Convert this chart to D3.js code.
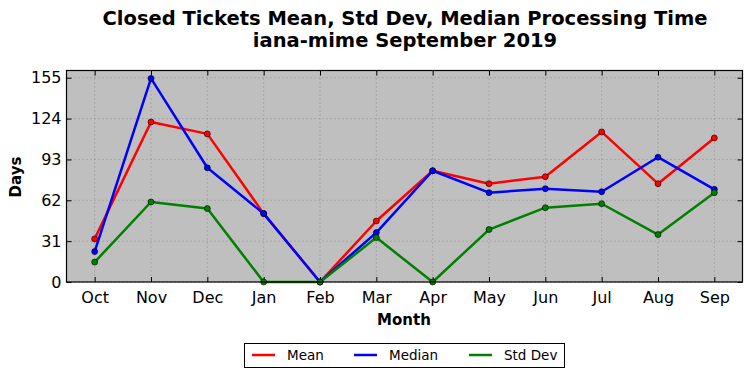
<!DOCTYPE html>
<html><head><meta charset="utf-8">
<script src="https://cdn.jsdelivr.net/npm/d3@7"></script>
<style>body{margin:0;background:#fff;} svg{display:block;font-family:"DejaVu Sans",sans-serif;}</style>
</head><body>
<svg id="c" width="752" height="378"></svg>
<script>
const months = ["Oct","Nov","Dec","Jan","Feb","Mar","Apr","May","Jun","Jul","Aug","Sep"];
const meanVals = [32.7,121.4,112.4,51.9,0,46.3,84.4,74.6,79.9,113.9,74.6,109.3];
const medianVals = [23.1,154.5,86.7,51.9,0,37.5,84.4,67.8,70.8,68.5,94.7,70.3];
const stdVals = [15.1,60.7,55.7,0,0,33.7,0,39.8,56.4,59.4,36.0,67.8];
const yTicks = [0,31,62,93,124,155];
const seriesNames = ["Mean","Median","Std Dev"];
const seriesColors = ["#ff0000","#0000ff","#008000"];
const seriesData = [meanVals, medianVals, stdVals];

const svg = d3.select("#c");
const L=66.5, R=742.5, T=70.5, B=282;
const x = d3.scaleLinear().domain([-0.5,11.5]).range([L,R]);
const y = d3.scaleLinear().domain([0,160.5]).range([B,T]);

svg.append("rect").attr("x",L).attr("y",T).attr("width",R-L).attr("height",B-T).attr("fill","#bfbfbf");

// grid
const g = svg.append("g");
g.selectAll(".vg").data(months).enter().append("line")
 .attr("x1",(d,i)=>x(i)).attr("x2",(d,i)=>x(i)).attr("y1",T).attr("y2",B)
 .attr("stroke","#808080").attr("stroke-width",0.8).attr("stroke-dasharray","1,3");
g.selectAll(".hg").data(yTicks).enter().append("line")
 .attr("x1",L).attr("x2",R).attr("y1",d=>y(d)).attr("y2",d=>y(d))
 .attr("stroke","#808080").attr("stroke-width",0.8).attr("stroke-dasharray","1,3");

// axes (inward ticks)
const xAxis = d3.axisBottom(x).tickValues(d3.range(12)).tickFormat(i=>months[i]).tickSizeInner(-5).tickSizeOuter(0).tickPadding(10);
const yAxis = d3.axisLeft(y).tickValues(yTicks).tickSizeInner(-5).tickSizeOuter(0).tickPadding(5);
const xa = svg.append("g").attr("transform",`translate(0,${B})`).call(xAxis);
const ya = svg.append("g").attr("transform",`translate(${L},0)`).call(yAxis);
const xt = svg.append("g").attr("transform",`translate(0,${T})`).call(d3.axisTop(x).tickValues(d3.range(12)).tickFormat("").tickSizeInner(-5).tickSizeOuter(0));
const yr = svg.append("g").attr("transform",`translate(${R},0)`).call(d3.axisRight(y).tickValues(yTicks).tickFormat("").tickSizeInner(-5).tickSizeOuter(0));
[xa,ya,xt,yr].forEach(a=>{a.select(".domain").remove(); a.selectAll("line").attr("stroke","#000");});
xa.selectAll("text").attr("font-size",16).attr("font-family","DejaVu Sans").attr("fill","#000");
ya.selectAll("text").attr("font-size",16).attr("font-family","DejaVu Sans").attr("fill","#000");

// lines
const line = d3.line().x((d,i)=>x(i)).y(d=>y(d));
seriesData.forEach((vals,k)=>{
  svg.append("path").datum(vals).attr("d",line).attr("fill","none")
    .attr("stroke",seriesColors[k]).attr("stroke-width",2.5).attr("stroke-linejoin","round");
  svg.append("g").selectAll("circle").data(vals).enter().append("circle")
    .attr("cx",(d,i)=>x(i)).attr("cy",d=>y(d)).attr("r",3)
    .attr("fill",seriesColors[k]).attr("stroke","#000").attr("stroke-width",0.6);
});

// frame
svg.append("rect").attr("x",L).attr("y",T).attr("width",R-L).attr("height",B-T)
  .attr("fill","none").attr("stroke","#000").attr("stroke-width",1.2);

// titles
svg.append("text").attr("x",405).attr("y",25).attr("text-anchor","middle")
  .attr("font-size",19.5).attr("font-weight","bold").text("Closed Tickets Mean, Std Dev, Median Processing Time");
svg.append("text").attr("x",405).attr("y",47).attr("text-anchor","middle")
  .attr("font-size",19.5).attr("font-weight","bold").text("iana-mime September 2019");
svg.append("text").attr("x",404).attr("y",325).attr("text-anchor","middle")
  .attr("font-size",15).attr("font-weight","bold").text("Month");
svg.append("text").attr("transform","translate(21,177) rotate(-90)").attr("text-anchor","middle")
  .attr("font-size",15).attr("font-weight","bold").text("Days");

// legend
svg.append("rect").attr("x",244.5).attr("y",343.5).attr("width",320).attr("height",24)
  .attr("fill","#fff").attr("stroke","#000").attr("stroke-width",1);
const legX = [252,354,469];
seriesNames.forEach((n,k)=>{
  svg.append("line").attr("x1",legX[k]).attr("x2",legX[k]+23).attr("y1",355).attr("y2",355)
    .attr("stroke",seriesColors[k]).attr("stroke-width",2.5);
  svg.append("text").attr("x",legX[k]+35).attr("y",360).attr("font-size",13.5).text(n);
});
</script>
</body></html>
